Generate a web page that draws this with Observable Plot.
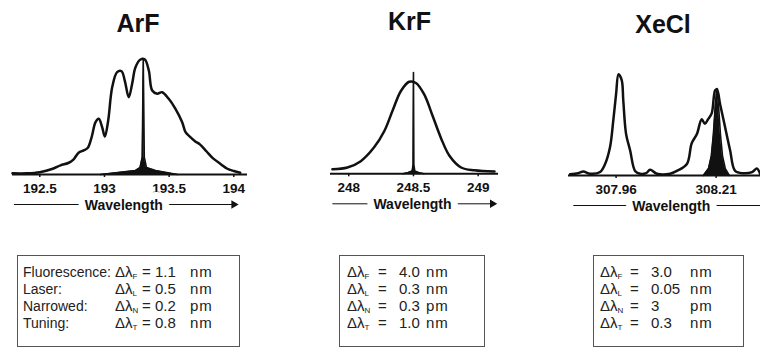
<!DOCTYPE html>
<html><head><meta charset="utf-8">
<script src="https://cdn.jsdelivr.net/npm/d3@7"></script>
<script src="https://cdn.jsdelivr.net/npm/@observablehq/plot@0.6"></script>
<style>
body{margin:0;background:#fff;}
#page{position:relative;width:760px;height:353px;overflow:hidden;font-family:"Liberation Sans",Arial,Helvetica,sans-serif;color:#111;}
.title{position:absolute;font-weight:bold;font-size:25px;line-height:25px;transform:translateX(-50%);white-space:nowrap;}
.panel{position:absolute;top:0;}
.box{position:absolute;border:1px solid #555;box-sizing:border-box;}
.cell{position:absolute;white-space:nowrap;color:#222;}
.cell sub{font-size:8px;line-height:8px;vertical-align:-2px;}
.unit{letter-spacing:0.8px;}
</style></head>
<body><div id="page"></div>
<script>
// ---------- data ----------
const lasers = ["ArF", "KrF", "XeCl"];

// [wavelength nm, relative intensity]
const arfFluorescence = [[192.289,0.01],[192.40,0.01],[192.50,0.02],[192.60,0.05],[192.66,0.08],[192.72,0.10],[192.76,0.13],[192.80,0.19],[192.84,0.21],[192.87,0.23],[192.90,0.32],[192.931,0.455],[192.956,0.484],[192.982,0.412],[193.003,0.33],[193.029,0.47],[193.06,0.76],[193.098,0.89],[193.132,0.898],[193.157,0.817],[193.188,0.672],[193.214,0.789],[193.24,0.933],[193.279,1.0],[193.312,1.0],[193.343,0.904],[193.369,0.73],[193.408,0.702],[193.446,0.716],[193.497,0.658],[193.549,0.571],[193.601,0.455],[193.627,0.368],[193.66,0.33],[193.70,0.29],[193.74,0.26],[193.79,0.20],[193.84,0.14],[193.90,0.09],[193.95,0.05],[194.0,0.03],[194.05,0.015]];
const arfNarrowed = [[192.969,0],[193.12,0.02],[193.24,0.035],[193.275,0.06],[193.292,0.15],[193.30,1.0],[193.308,0.15],[193.325,0.06],[193.395,0.035],[193.47,0.02],[193.565,0]];

const krfFluorescence = [[247.874,0.04],[247.99,0.055],[248.093,0.11],[248.196,0.23],[248.274,0.37],[248.339,0.55],[248.403,0.72],[248.467,0.80],[248.519,0.79],[248.583,0.69],[248.649,0.50],[248.713,0.31],[248.778,0.157],[248.868,0.055],[248.971,0.03],[249.126,0.02]];
const krfNarrowed = [[248.42,0],[248.46,0.012],[248.49,0.025],[248.497,0.08],[248.50,0.88],[248.503,0.08],[248.51,0.025],[248.54,0.012],[248.58,0]];

const xeclFluorescence = [[307.845,0.01],[307.865,0.02],[307.878,0.035],[307.895,0.015],[307.92,0.03],[307.9325,0.10],[307.945,0.25],[307.953,0.48],[307.96,0.71],[307.966,0.88],[307.974,0.83],[307.978,0.65],[307.985,0.36],[307.995,0.22],[308.0075,0.04],[308.02,0.015],[308.035,0.02],[308.045,0.05],[308.062,0.015],[308.095,0.015],[308.112,0.04],[308.137,0.10],[308.149,0.28],[308.162,0.36],[308.174,0.49],[308.182,0.45],[308.19,0.49],[308.199,0.54],[308.2075,0.74],[308.212,0.75],[308.22,0.62],[308.2325,0.42],[308.245,0.22],[308.2575,0.04],[308.278,0.02],[308.30,0.03],[308.312,0.06],[308.32,0.015]];
const xeclNarrowed = [[308.178,0],[308.191,0.06],[308.198,0.17],[308.203,0.35],[308.208,0.61],[308.212,0.757],[308.216,0.61],[308.221,0.35],[308.226,0.17],[308.233,0.06],[308.243,0]];

const arfTicks = [192.5, 193, 193.5, 194], arfTickLabels = ["192.5","193","193.5","194"];
const krfTicks = [248, 248.5, 249], krfTickLabels = ["248","248.5","249"];
const xeclTicks = [307.96, 308.21], xeclTickLabels = ["307.96","308.21"];

const arfDomain = [192.289, 194.106], krfDomain = [247.859, 249.157], xeclDomain = [307.841, 308.321];
const arfArrow = [192.30, 194.0], krfArrow = [247.874, 249.11], xeclArrow = [307.853, 308.343];

const rowLabels = ["Fluorescence:", "Laser:", "Narrowed:", "Tuning:"];
const subscripts = ["F", "L", "N", "T"];
const arfValues = ["1.1", "0.5", "0.2", "0.8"], arfUnits = ["nm", "nm", "pm", "nm"];
const krfValues = ["4.0", "0.3", "0.3", "1.0"], krfUnits = ["nm", "nm", "pm", "nm"];
const xeclValues = ["3.0", "0.05", "3", "0.3"], xeclUnits = ["nm", "nm", "pm", "nm"];

// ---------- layout ----------
const page = document.getElementById("page");
const H = 225;
const font = "Liberation Sans, Arial, Helvetica, sans-serif";

function panel(cfg) {
  const X = d => d[0], Y = d => d[1];
  const mid = (cfg.arrow[0] + cfg.arrow[1]) / 2;
  const svg = Plot.plot({
    width: cfg.width, height: H,
    marginLeft: cfg.ml, marginRight: cfg.mr,
    marginTop: cfg.axisY - 115, marginBottom: H - cfg.axisY,
    x: {domain: cfg.domain, axis: null},
    y: {domain: [0, 1], axis: null},
    style: {fontFamily: font, fontWeight: "bold", fontSize: "14px", background: "transparent", color: "#111"},
    marks: [
      Plot.areaY(cfg.narrow, {x: X, y: Y, fill: "#111"}),
      Plot.line(cfg.narrow, {x: X, y: Y, stroke: "#111", strokeWidth: 1.6}),
      Plot.line(cfg.fluo, {x: X, y: Y, stroke: "#111", strokeWidth: 2.5, curve: "catmull-rom"}),
      Plot.ruleY([0], {stroke: "#111", strokeWidth: 2}),
      Plot.axisX({ticks: cfg.ticks, tickFormat: d => cfg.tickLabels[cfg.ticks.indexOf(d)], tickSize: 3, tickPadding: 6, label: null, fontSize: 13.5, fontWeight: "bold", strokeWidth: 1.5}),
      Plot.link([cfg.arrow], {x1: d => d[0], x2: d => d[1], y1: 0, y2: 0, dy: 30, stroke: "#111", strokeWidth: 1}),
      Plot.dot([cfg.arrow], {x: d => d[1], y: 0, dy: 30, symbol: "triangle2", rotate: 90, r: 4, fill: "#111"}),
      Plot.text(["Wavelength"], {x: mid, y: 0, dy: 31, fill: "#111", stroke: "white", strokeWidth: 14, fontSize: 14, fontWeight: "bold"})
    ]
  });
  svg.classList.add("panel");
  svg.style.left = cfg.left + "px";
  page.appendChild(svg);
}

panel({left: 0, width: 255, ml: 12, mr: 8, axisY: 174, domain: arfDomain, ticks: arfTicks, tickLabels: arfTickLabels, fluo: arfFluorescence, narrow: arfNarrowed, arrow: arfArrow});
panel({left: 255, width: 255, ml: 75, mr: 12, axisY: 173.3, domain: krfDomain, ticks: krfTicks, tickLabels: krfTickLabels, fluo: krfFluorescence, narrow: krfNarrowed, arrow: krfArrow});
panel({left: 510, width: 250, ml: 58, mr: 0, axisY: 175, domain: xeclDomain, ticks: xeclTicks, tickLabels: xeclTickLabels, fluo: xeclFluorescence, narrow: xeclNarrowed, arrow: xeclArrow});

// titles
const titlePos = [[138, 32], [409.5, 30], [663, 33]];
lasers.forEach((name, i) => {
  const t = document.createElement("div");
  t.className = "title";
  t.textContent = name;
  t.style.left = titlePos[i][0] + "px";
  t.style.top = (titlePos[i][1] - 21.2) + "px";
  page.appendChild(t);
});

// spec boxes
function cell(html, x, baseline, fs, cls) {
  const L = 14; // compact line box so stacked rows do not overlap
  const d = document.createElement("div");
  d.className = "cell" + (cls ? " " + cls : "");
  d.style.fontSize = fs + "px";
  d.style.lineHeight = L + "px";
  d.style.left = x + "px";
  d.style.top = (baseline - ((L - 1.117 * fs) / 2 + 0.905 * fs)) + "px";
  d.innerHTML = html;
  page.appendChild(d);
}
const boxes = [
  {l: 17, r: 240, labels: true, cols: [23, 115, 142, 155, 190], values: arfValues, units: arfUnits},
  {l: 339, r: 485, labels: false, cols: [347, 347, 378, 399, 426], values: krfValues, units: krfUnits},
  {l: 593, r: 744, labels: false, cols: [600, 600, 630, 651, 690], values: xeclValues, units: xeclUnits}
];
const boxTop = 255, boxBottom = 347, baselines = [277, 293.9, 310.8, 327.7];
boxes.forEach(b => {
  const box = document.createElement("div");
  box.className = "box";
  Object.assign(box.style, {left: b.l + "px", top: boxTop + "px", width: (b.r - b.l) + "px", height: (boxBottom - boxTop) + "px"});
  page.appendChild(box);
  const c = b.cols;
  rowLabels.forEach((lab, i) => {
    const y = baselines[i];
    if (b.labels) cell(lab, c[0], y, 14);
    cell(`Δλ<sub>${subscripts[i]}</sub>`, c[1], y, 15);
    cell("=", c[2], y, 15);
    cell(b.values[i], c[3], y, 15);
    cell(b.units[i], c[4], y, 15, "unit");
  });
});
</script>
</body></html>
